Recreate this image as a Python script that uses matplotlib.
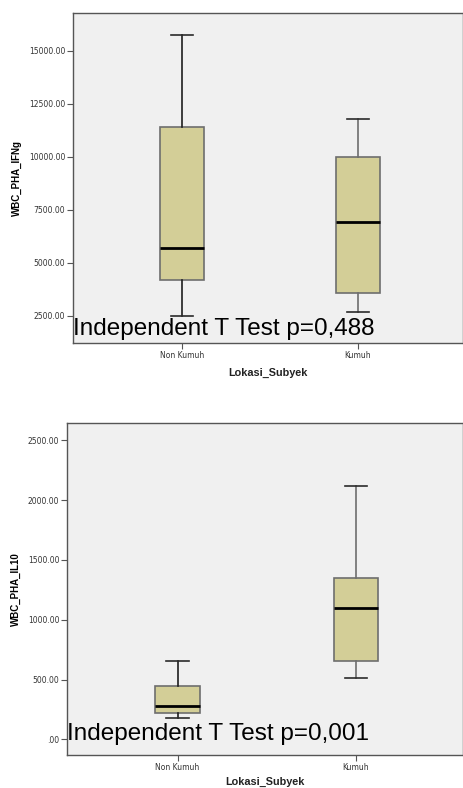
import matplotlib
matplotlib.use("Agg")
from matplotlib import pyplot as plt
import numpy as np

plt.rcParams['font.family'] = ['Liberation Sans', 'DejaVu Sans']

groups = ["Non Kumuh", "Kumuh"]
xlabel = "Lokasi_Subyek"

# five-number summaries: low whisker, Q1, median, Q3, high whisker
ifng_label = "WBC_PHA_IFNg"
ifng_low = [2490, 2675]
ifng_q1 = [4184, 3585]
ifng_med = [5708, 6950]
ifng_q3 = [11430, 10000]
ifng_high = [15755, 11792]
ifng_ticks = [2500, 5000, 7500, 10000, 12500, 15000]
ifng_tick_labels = ["2500.00", "5000.00", "7500.00", "10000.00", "12500.00", "15000.00"]
ifng_note = "Independent T Test p=0,488"

il10_label = "WBC_PHA_IL10"
il10_low = [176, 510]
il10_q1 = [220, 652]
il10_med = [278, 1098]
il10_q3 = [443, 1349]
il10_high = [657, 2115]
il10_ticks = [0, 500, 1000, 1500, 2000, 2500]
il10_tick_labels = [".00", "500.00", "1000.00", "1500.00", "2000.00", "2500.00"]
il10_note = "Independent T Test p=0,001"

box_fill = "#d3ce97"
face = "#f0f0f0"
whisker_cols = ["#1e1e1e", "#6e6e6e"]


def draw_panel(ax, low, q1, med, q3, high, ticks, tick_labels, ylim, ylabel, note, note_y, xpad):
    stats = []
    for i, g in enumerate(groups):
        stats.append(dict(label=g, whislo=low[i], q1=q1[i], med=med[i], q3=q3[i], whishi=high[i], fliers=[]))
    bp = ax.bxp(stats, positions=[1, 2], widths=0.25, patch_artist=True, showfliers=False,
                boxprops=dict(facecolor=box_fill, edgecolor="#6e6e6e", linewidth=1.2),
                medianprops=dict(color="black", linewidth=2),
                capprops=dict(color="#2a2a2a", linewidth=1.2),
                whiskerprops=dict(linewidth=1.2))
    for i in range(2):
        bp['whiskers'][2 * i].set_color(whisker_cols[i])
        bp['whiskers'][2 * i + 1].set_color(whisker_cols[i])
    ax.set_facecolor(face)
    ax.set_xlim(0.38, 2.6)
    ax.set_ylim(*ylim)
    ax.set_yticks(ticks)
    ax.set_yticklabels(tick_labels, fontsize=5.5, color="#333333", family='DejaVu Sans')
    ax.set_xticks([1, 2])
    ax.set_xticklabels(groups, fontsize=5.5, color="#333333", family='DejaVu Sans')
    ax.tick_params(axis='both', length=4, width=0.8, color="#555555", pad=1.5)
    for s in ax.spines.values():
        s.set_color("#555555")
        s.set_linewidth(1.0)
    ax.set_ylabel(ylabel, fontsize=7, fontweight='bold', labelpad=5)
    ax.set_xlabel(xlabel, fontsize=7.8, fontweight='bold', labelpad=xpad, color="#222222")
    ax.text(0.0, note_y, note, transform=ax.transAxes, fontsize=17.5, color="black",
            ha='left', va='baseline', clip_on=False)


fig = plt.figure(figsize=(4.63, 7.88), dpi=100)
ax1 = fig.add_axes([73 / 463, 1 - 343 / 788, 390 / 463, 330 / 788])
ax2 = fig.add_axes([67 / 463, 1 - 755 / 788, 396 / 463, 332 / 788])

draw_panel(ax1, ifng_low, ifng_q1, ifng_med, ifng_q3, ifng_high, ifng_ticks, ifng_tick_labels,
           (1226, 16790), ifng_label, ifng_note, 8 / 330, 6)
draw_panel(ax2, il10_low, il10_q1, il10_med, il10_q3, il10_high, il10_ticks, il10_tick_labels,
           (-131, 2645), il10_label, il10_note, 15 / 332, 4)

fig.savefig("out.png", dpi=100)
